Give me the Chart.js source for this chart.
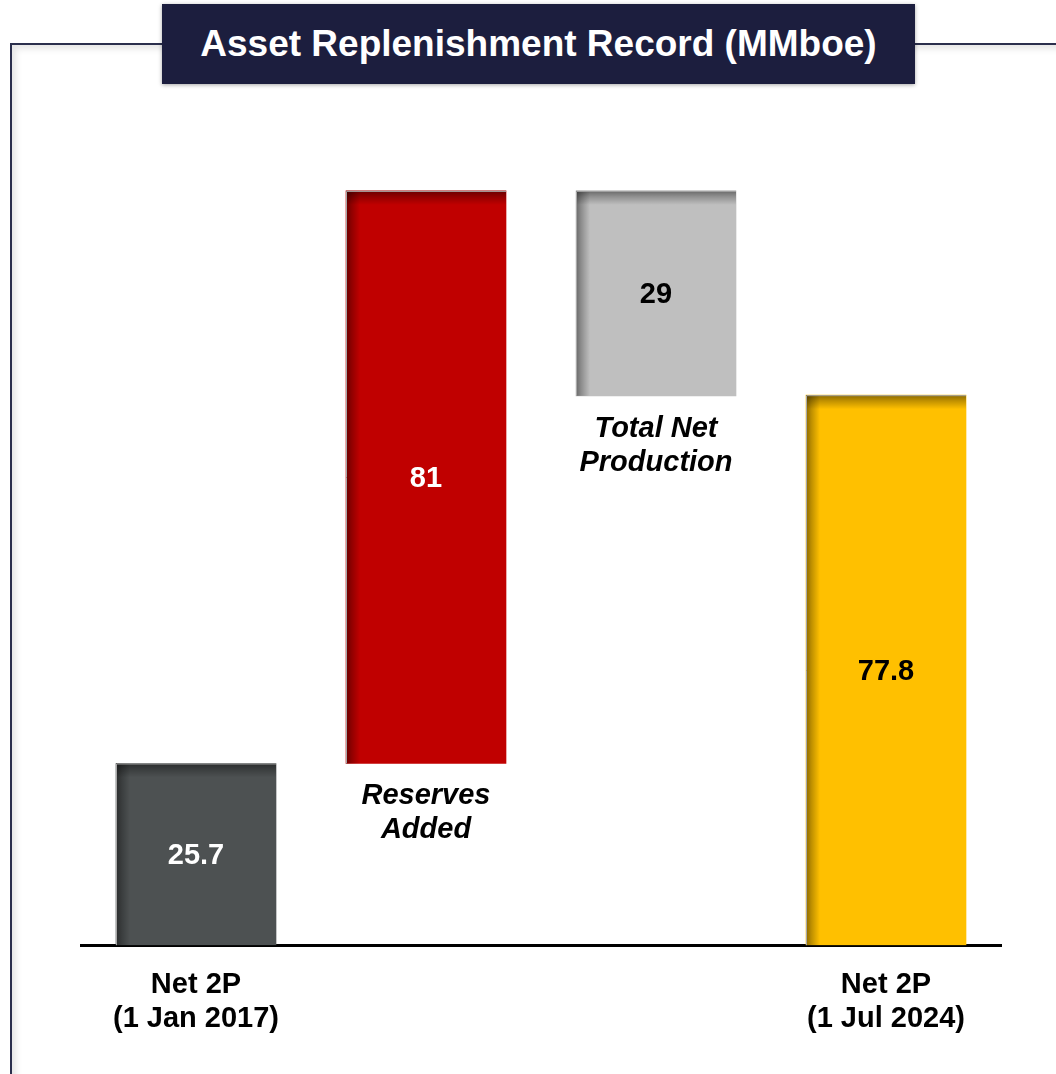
<!DOCTYPE html>
<html>
<head>
<meta charset="utf-8">
<script src="https://cdn.jsdelivr.net/npm/chart.js@4.4.1/dist/chart.umd.min.js"></script>
<style>
  body { margin: 0; background: #fff; font-family: "Liberation Sans", Arial, sans-serif; }
  #page { position: relative; width: 1056px; height: 1074px; overflow: hidden; }
  #marco {
    position: absolute; left: 10px; top: 43px; width: 1200px; height: 1200px;
    border-left: 2px solid #2b2f4d; border-top: 2px solid #2b2f4d;
    box-shadow: inset 4px 4px 6px rgba(0,0,0,0.10);
  }
  #titulo {
    position: absolute; left: 162px; top: 4px; width: 753px; height: 80px;
    background: #1c1e3e; color: #fff; font-weight: bold; font-size: 37px;
    line-height: 80px; text-align: center; box-shadow: 0 1px 4px rgba(0,0,0,0.35);
  }
  #grafico { position: absolute; left: 0; top: 0; width: 1056px; height: 1074px; }
</style>
</head>
<body>
<div id="page">
  <div id="marco"></div>
  <div id="titulo">Asset Replenishment Record (MMboe)</div>
  <div id="grafico"><canvas id="cv"></canvas></div>
</div>
<script>
// datos del grafico (cascada)
const categorias = ['Net 2P (1 Jan 2017)', 'Reserves Added', 'Total Net Production', 'Net 2P (1 Jul 2024)'];
const etiquetasEje = [['Net 2P', '(1 Jan 2017)'], '', '', ['Net 2P', '(1 Jul 2024)']];
const notasBarra = [null, ['Reserves', 'Added'], ['Total Net', 'Production'], null];
const valores = [25.7, 81, -29, 77.8];
const tipos = ['total', 'delta', 'delta', 'total'];
const textoValores = ['25.7', '81', '29', '77.8'];
const colores = ['#4d5152', '#c00000', '#bfbfbf', '#ffc000'];
const coloresTexto = ['#ffffff', '#ffffff', '#000000', '#000000'];

// armar rangos flotantes
let acumulado = 0;
const rangos = valores.map((v, i) => {
  if (tipos[i] === 'total') {
    acumulado = v;
    return [0, v];
  }
  const inicio = acumulado;
  acumulado += v;
  return [Math.min(inicio, acumulado), Math.max(inicio, acumulado)];
});

const FUENTE = '"Liberation Sans", Arial, sans-serif';

// sombras internas y textos encima de las barras
const pluginBarras = {
  id: 'pluginBarras',
  afterDatasetsDraw(chart) {
    const ctx = chart.ctx;
    const meta = chart.getDatasetMeta(0);
    meta.data.forEach((bar, i) => {
      const w = bar.width;
      const izq = bar.x - w / 2;
      const arriba = Math.min(bar.y, bar.base);
      const abajo = Math.max(bar.y, bar.base);
      const alto = abajo - arriba;

      ctx.save();
      // sombra izquierda
      let g = ctx.createLinearGradient(izq, 0, izq + 14, 0);
      g.addColorStop(0, 'rgba(0,0,0,0.45)');
      g.addColorStop(0.4, 'rgba(0,0,0,0.25)');
      g.addColorStop(1, 'rgba(0,0,0,0)');
      ctx.fillStyle = g;
      ctx.fillRect(izq, arriba, 14, alto);
      // sombra superior
      g = ctx.createLinearGradient(0, arriba, 0, arriba + 14);
      g.addColorStop(0, 'rgba(0,0,0,0.45)');
      g.addColorStop(0.4, 'rgba(0,0,0,0.25)');
      g.addColorStop(1, 'rgba(0,0,0,0)');
      ctx.fillStyle = g;
      ctx.fillRect(izq, arriba, w, 14);
      // borde claro
      ctx.strokeStyle = '#a8a8a8';
      ctx.lineWidth = 1;
      ctx.beginPath();
      ctx.moveTo(izq + 0.5, abajo);
      ctx.lineTo(izq + 0.5, arriba + 0.5);
      ctx.lineTo(izq + w, arriba + 0.5);
      ctx.stroke();

      // valor
      ctx.font = 'bold 29px ' + FUENTE;
      ctx.textAlign = 'center';
      ctx.textBaseline = 'middle';
      ctx.fillStyle = coloresTexto[i];
      ctx.fillText(textoValores[i], bar.x, (arriba + abajo) / 2 + 2);

      // nota en cursiva bajo la barra
      if (notasBarra[i]) {
        ctx.font = 'italic bold 29px ' + FUENTE;
        ctx.fillStyle = '#000';
        notasBarra[i].forEach((linea, k) => {
          ctx.fillText(linea, bar.x, abajo + 33 + k * 34);
        });
      }
      ctx.restore();
    });
  }
};

new Chart(document.getElementById('cv'), {
  type: 'bar',
  data: {
    labels: etiquetasEje,
    datasets: [{
      label: 'MMboe',
      data: rangos,
      backgroundColor: colores,
      borderWidth: 0,
      barThickness: 160
    }]
  },
  options: {
    responsive: true,
    maintainAspectRatio: false,
    animation: false,
    layout: { padding: { left: 81, right: 55, top: 111, bottom: 15 } },
    plugins: {
      legend: { display: false },
      tooltip: { enabled: false }
    },
    scales: {
      x: {
        grid: { display: false, drawTicks: false },
        border: { display: true, color: '#000', width: 3 },
        ticks: {
          color: '#000',
          padding: 23,
          maxRotation: 0,
          autoSkip: false,
          font: { family: FUENTE, size: 29, weight: 'bold', lineHeight: 1.17 }
        }
      },
      y: {
        display: false,
        min: 0,
        max: 118
      }
    }
  },
  plugins: [pluginBarras]
});
</script>
</body>
</html>
